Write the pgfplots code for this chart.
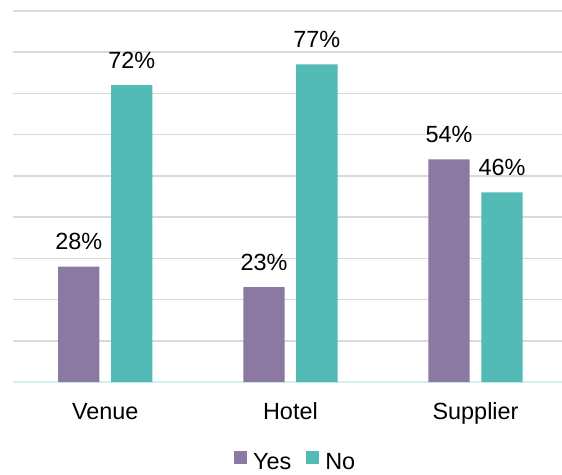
\documentclass[border=0pt]{standalone}
\usepackage{fontspec}
\setmainfont{Liberation Sans}
\usepackage{pgfplots}
\pgfplotsset{compat=1.18}
\definecolor{cpurple}{HTML}{8B79A3}
\definecolor{cteal}{HTML}{53BBB5}
\definecolor{cgrid}{HTML}{D9D9D9}
\definecolor{cbase}{HTML}{D3EFEE}
\begin{document}
\fontsize{23.5}{27}\selectfont
\begin{tikzpicture}
\useasboundingbox (-12.7bp,-93bp) rectangle (549.3bp,382bp);
\begin{axis}[
  at={(0,0)}, anchor=south west,
  scale only axis, width=549.3bp, height=371.25bp,
  xmin=-0.5, xmax=2.467, ymin=0, ymax=90,
  axis line style={draw=none},
  ytick={10,20,...,90}, yticklabels={},
  ymajorgrids, grid style={cgrid, line width=1.5bp},
  extra y ticks={0}, extra y tick labels={},
  extra y tick style={grid style={cbase, line width=1.5bp}},
  xtick={0,1,2}, xticklabels={Venue,Hotel,Supplier},
  major tick length=0pt,
  xticklabel style={anchor=base, yshift=-37bp, font=\fontsize{23.5}{27}\selectfont},
  /pgf/number format/assume math mode=true,
  legend columns=2,
  legend style={at={(axis description cs:0.403,-0.185)}, anchor=north west,
    draw=none, fill=none, inner sep=0pt, outer sep=0pt,
    nodes={inner sep=0pt}, font=\fontsize{23.5}{27}\selectfont,
    /tikz/every odd column/.append style={column sep=6bp},
    /tikz/every even column/.append style={column sep=15bp}},
  every node near coord/.append style={anchor=south, inner sep=0pt, yshift=16.5bp, font=\fontsize{23.5}{27}\selectfont, text=black},
]
\addplot[ybar, bar width=0.223, bar shift=0, fill=cpurple, draw=none,
  nodes near coords={\pgfmathprintnumber{\pgfplotspointmeta}\%},
  legend image code/.code={\fill[cpurple] (0bp,0bp) rectangle (13bp,13bp);}]
  coordinates {(-0.143,28) (0.857,23) (1.857,54)};
\addplot[ybar, bar width=0.223, bar shift=0, fill=cteal, draw=none,
  nodes near coords={\pgfmathprintnumber{\pgfplotspointmeta}\%},
  legend image code/.code={\fill[cteal] (0bp,0bp) rectangle (13bp,13bp);}]
  coordinates {(0.143,72) (1.143,77) (2.143,46)};
\legend{Yes,No}
\end{axis}
\end{tikzpicture}
\end{document}
